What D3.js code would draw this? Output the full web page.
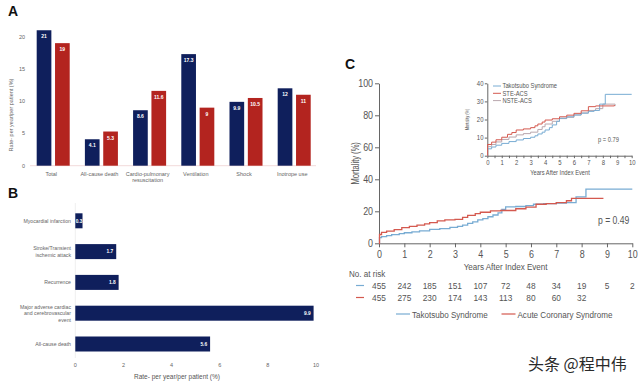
<!DOCTYPE html>
<html><head><meta charset="utf-8">
<script src="https://cdn.jsdelivr.net/npm/d3@7/dist/d3.min.js"></script>
<style>body{margin:0;background:#fff}svg{display:block}</style>
</head><body><svg id="c" width="640" height="383"></svg>
<script>
// ---------- DATA ----------
const catsA = ["Total","All-cause death","Cardio-pulmonary|resuscitation","Ventilation","Shock","Inotrope use"];
const takoA = [21, 4.1, 8.6, 17.3, 9.9, 12];
const acsA  = [19, 5.3, 11.6, 9, 10.5, 11];
const ticksA = [0,5,10,15,20];

const catsB = ["Myocardial infarction","Stroke/Transient|ischemic attack","Recurrence","Major adverse cardiac|and cerebrovascular|event","All-cause death"];
const valsB = [0.3, 1.7, 1.8, 9.9, 5.6];
const ticksB = [0,2,4,6,8,10];

const kmTako = [[0,0],[0.02,3.5],[0.1,4.2],[0.3,4.8],[0.5,5.4],[0.8,6.0],[1.0,6.6],[1.3,7.2],[1.6,7.8],[2.0,8.7],[2.4,9.2],[2.8,9.9],[3.1,10.6],[3.3,11.4],[3.5,12.5],[3.7,13.4],[3.9,14.6],[4.1,15.4],[4.3,16.6],[4.5,17.7],[4.7,19.0],[4.85,21.2],[5.0,22.8],[5.4,23.0],[5.8,23.5],[6.1,24.4],[6.5,24.8],[7.0,25.2],[7.4,25.4],[7.78,29.0],[8.17,33.9],[10.0,33.9]];
const kmACS = [[0,0],[0.02,5.5],[0.1,6.8],[0.3,7.6],[0.6,8.6],[0.9,9.8],[1.2,10.6],[1.5,11.4],[1.8,12.2],[2.0,12.9],[2.3,14.0],[2.6,14.6],[3.0,15.0],[3.3,16.2],[3.5,17.5],[3.8,18.6],[4.0,19.4],[4.4,20.3],[4.8,20.5],[5.1,20.5],[5.4,21.6],[5.8,22.6],[6.2,24.4],[6.6,24.8],[7.0,25.4],[7.4,26.6],[7.6,28.1],[8.86,28.1]];
const inTako = [[0,0],[0.02,3.8],[0.3,4.8],[0.6,5.8],[1.0,6.8],[1.5,7.8],[2.0,8.7],[2.5,9.5],[3.0,10.2],[3.3,11.0],[3.5,12.0],[3.8,13.0],[4.0,14.2],[4.3,15.5],[4.5,17.0],[4.8,19.0],[5.0,20.7],[5.5,21.5],[6.0,22.5],[6.5,23.5],[7.0,24.5],[7.4,25.0],[7.78,28.5],[8.17,33.9],[10.0,33.9]];
const inSTE = [[0,0],[0.02,6.2],[0.3,7.5],[0.6,8.8],[1.0,10.2],[1.4,11.8],[1.7,12.8],[2.0,14.2],[2.5,14.8],[3.0,15.5],[3.3,16.5],[3.5,17.5],[3.8,18.6],[4.0,19.7],[4.5,20.4],[5.0,21.5],[5.5,22.4],[6.0,23.4],[6.5,24.8],[7.0,27.1],[7.5,27.5],[8.8,28.0]];
const inNSTE = [[0,0],[0.02,5.0],[0.3,6.2],[0.6,7.6],[1.0,9.0],[1.5,10.3],[2.0,11.5],[2.5,12.2],[3.0,13.0],[3.5,14.5],[3.8,16.0],[4.0,17.5],[4.5,19.0],[5.0,20.5],[5.5,21.2],[6.0,22.5],[6.5,23.6],[7.0,25.0],[7.5,26.0],[8.0,28.5],[8.85,27.4]];
const atRiskTako = [455,242,185,151,107,72,48,34,19,5,2];
const atRiskACS  = [455,275,230,174,143,113,80,60,32];
const ticksC = [0,20,40,60,80,100];
const ticksCin = [0,10,20,30,40];
const yearsC = [0,1,2,3,4,5,6,7,8,9,10];

// ---------- STYLE ----------
const NAVY = "#0f1f5c", RED = "#b3241f";
const CBLUE = "#78acd3", CRED = "#d4594f", CGREY = "#b9a7ae";
const svg = d3.select("#c");
const smallFont = "Liberation Sans, Arial, sans-serif";
const cFont = "Liberation Sans, Arial, sans-serif";
const TXT = "#555";

// condensed text helper (x-scaled glyphs)
function ctext(g, x, y, str, size, sx, anchor="start", rot=0) {
  return g.append("text").attr("transform",`translate(${x},${y}) rotate(${rot}) scale(${sx},1)`)
    .attr("text-anchor",anchor).attr("font-size",size).attr("font-family",cFont).attr("fill",TXT).text(str);
}

// ---------- PANEL A ----------
svg.append("text").attr("x",8).attr("y",16).attr("font-family","Liberation Sans, Arial").attr("font-weight","bold").attr("font-size",14).attr("fill","#111").text("A");
const xA = d3.scaleBand().domain(catsA).range([29.1,318.3]).paddingInner(0.315).paddingOuter(0.1575);
const subA = d3.scaleBand().domain(["t","a"]).range([0,xA.bandwidth()]).paddingInner(0.2);
const yA = d3.scaleLinear().domain([0,20]).range([165.7,36.7]);
const gA = svg.append("g");
gA.append("line").attr("x1",30).attr("x2",316).attr("y1",yA(0)).attr("y2",yA(0)).attr("stroke","#edd0d0").attr("stroke-width",0.8);
gA.selectAll(".ta").data(ticksA).join("text").attr("x",25).attr("y",d=>yA(d)+2).attr("text-anchor","end")
  .attr("font-size",5.5).attr("font-family",smallFont).attr("fill","#666").text(d=>d);
gA.append("text").attr("transform","translate(13,115) rotate(-90)").attr("text-anchor","middle").attr("font-size",5.5)
  .attr("font-family",smallFont).attr("fill","#666").text("Rate- per year/per patient (%)");
const series = [{k:"t",v:takoA,c:NAVY},{k:"a",v:acsA,c:RED}];
series.forEach(s=>{
  catsA.forEach((c,i)=>{
    const x = xA(c)+subA(s.k), y = yA(s.v[i]);
    gA.append("rect").attr("x",x).attr("y",y).attr("width",subA.bandwidth()).attr("height",yA(0)-y).attr("fill",s.c);
    gA.append("text").attr("x",x+subA.bandwidth()/2).attr("y",y+8).attr("text-anchor","middle").attr("font-size",5)
      .attr("font-weight","bold").attr("font-family",smallFont).attr("fill","#fff").text(s.v[i]);
  });
});
catsA.forEach(c=>{
  const lines = c.split("|");
  lines.forEach((l,j)=>{
    gA.append("text").attr("x",xA(c)+xA.bandwidth()/2-2).attr("y",175.5+j*6.8).attr("text-anchor","middle").attr("font-size",5.5)
      .attr("font-family",smallFont).attr("fill","#666").text(l);
  });
});

// ---------- PANEL B ----------
svg.append("text").attr("x",8).attr("y",198).attr("font-family","Liberation Sans, Arial").attr("font-weight","bold").attr("font-size",14).attr("fill","#111").text("B");
const xB = d3.scaleLinear().domain([0,10]).range([75.3,316]);
const yB = d3.scaleBand().domain(catsB).range([205.4,359.4]).paddingInner(0.513).paddingOuter(0.2565);
const gB = svg.append("g");
gB.append("line").attr("x1",xB(0)).attr("x2",xB(0)).attr("y1",203).attr("y2",358).attr("stroke","#e4e4e4").attr("stroke-width",0.6);
catsB.forEach((c,i)=>{
  const y = yB(c);
  gB.append("rect").attr("x",xB(0)).attr("y",y).attr("width",xB(valsB[i])-xB(0)).attr("height",yB.bandwidth()).attr("fill",NAVY);
  gB.append("text").attr("x",Math.max(xB(valsB[i])-3, xB(0)+7)).attr("y",y+yB.bandwidth()/2+1.8).attr("text-anchor","end")
    .attr("font-size",4.8).attr("font-weight","bold").attr("font-family",smallFont).attr("fill","#fff").text(valsB[i]);
  const lines = c.split("|");
  lines.forEach((l,j)=>{
    gB.append("text").attr("x",71).attr("y",y+yB.bandwidth()/2+2+(j-(lines.length-1)/2)*6.3).attr("text-anchor","end")
      .attr("font-size",5.2).attr("font-family",smallFont).attr("fill","#666").text(l);
  });
});
gB.selectAll(".tb").data(ticksB).join("text").attr("x",d=>xB(d)).attr("y",367).attr("text-anchor","middle")
  .attr("font-size",5.5).attr("font-family",smallFont).attr("fill","#666").text(d=>d);
gB.append("text").attr("x",177).attr("y",379).attr("text-anchor","middle").attr("font-size",6.5)
  .attr("font-family",smallFont).attr("fill","#555").text("Rate- per year/per patient (%)");

// ---------- PANEL C ----------
svg.append("text").attr("x",345).attr("y",69).attr("font-family","Liberation Sans, Arial").attr("font-weight","bold").attr("font-size",14).attr("fill","#111").text("C");
const xC = d3.scaleLinear().domain([0,10]).range([379,632.3]);
const yC = d3.scaleLinear().domain([0,100]).range([243.3,83.3]);
const gC = svg.append("g");
const axisCol = "#666";
gC.append("g").attr("transform",`translate(0,${yC(0)})`).call(d3.axisBottom(xC).tickValues(yearsC).tickSize(4).tickSizeOuter(0).tickPadding(3))
  .call(g=>{g.select(".domain").attr("stroke",axisCol);g.selectAll("line").attr("stroke",axisCol);
    g.selectAll("text").attr("font-size",10.5).attr("font-family",cFont).attr("fill",TXT).attr("transform","scale(0.85,1)");});
gC.append("g").attr("transform",`translate(${xC(0)},0)`).call(d3.axisLeft(yC).tickValues(ticksC).tickSize(4).tickSizeOuter(0).tickPadding(3))
  .call(g=>{g.select(".domain").attr("stroke",axisCol);g.selectAll("line").attr("stroke",axisCol);
    g.selectAll("text").attr("font-size",10.5).attr("font-family",cFont).attr("fill",TXT).attr("transform","scale(0.85,1)");});
ctext(gC, 505.6, 270, "Years After Index Event", 9.5, 0.85, "middle");
ctext(gC, 359, yC(50), "Mortality (%)", 10.5, 0.72, "middle", -90);
const stepLine = (xs,ys)=>d3.line().curve(d3.curveStepAfter).x(d=>xs(d[0])).y(d=>ys(d[1]));
gC.append("path").attr("d",stepLine(xC,yC)(kmTako)).attr("fill","none").attr("stroke",CBLUE).attr("stroke-width",1.3);
gC.append("path").attr("d",stepLine(xC,yC)(kmACS)).attr("fill","none").attr("stroke",CRED).attr("stroke-width",1.3);
ctext(gC, 598, 224, "p = 0.49", 10.5, 0.82);
// at risk
ctext(gC, 349, 277, "No. at risk", 9.5, 0.85);
[[atRiskTako,CBLUE,289],[atRiskACS,CRED,301]].forEach(([arr,col,y])=>{
  gC.append("line").attr("x1",356).attr("x2",364).attr("y1",y-3.5).attr("y2",y-3.5).attr("stroke",col).attr("stroke-width",1.2);
  arr.forEach((v,i)=>ctext(gC, xC(yearsC[i]), y, v, 9.8, 0.85, "middle"));
});
// legend
[["Takotsubo Syndrome",CBLUE,396],["Acute Coronary Syndrome",CRED,501.5]].forEach(([t,col,x])=>{
  gC.append("line").attr("x1",x).attr("x2",x+14).attr("y1",314).attr("y2",314).attr("stroke",col).attr("stroke-width",1.2);
  ctext(gC, x+16, 317.5, t, 9.5, 0.85);
});

// ---------- INSET ----------
const xI = d3.scaleLinear().domain([0,10]).range([487.3,631.7]);
const yI = d3.scaleLinear().domain([0,40]).range([155.7,83.3]);
const gI = svg.append("g");
gI.append("g").attr("transform",`translate(0,${yI(0)})`).call(d3.axisBottom(xI).ticks(20).tickFormat(d=>Number.isInteger(d)?d:"").tickSize(2.5).tickSizeOuter(0).tickPadding(1.5))
  .call(g=>{g.select(".domain").attr("stroke",axisCol);g.selectAll("line").attr("stroke",axisCol);
    g.selectAll("text").attr("font-size",7).attr("font-family",cFont).attr("fill",TXT).attr("transform","scale(0.85,1)");});
gI.append("g").attr("transform",`translate(${xI(0)},0)`).call(d3.axisLeft(yI).tickValues(ticksCin).tickSize(2.5).tickSizeOuter(0).tickPadding(2))
  .call(g=>{g.select(".domain").attr("stroke",axisCol);g.selectAll("line").attr("stroke",axisCol);
    g.selectAll("text").attr("font-size",7).attr("font-family",cFont).attr("fill",TXT).attr("transform","scale(0.85,1)");});
ctext(gI, 560, 174.5, "Years After Index Event", 7, 0.82, "middle");
ctext(gI, 469, yI(20), "Mortality (%)", 6.2, 0.62, "middle", -90);
gI.append("path").attr("d",stepLine(xI,yI)(inNSTE)).attr("fill","none").attr("stroke",CGREY).attr("stroke-width",1);
gI.append("path").attr("d",stepLine(xI,yI)(inTako)).attr("fill","none").attr("stroke",CBLUE).attr("stroke-width",1);
gI.append("path").attr("d",stepLine(xI,yI)(inSTE)).attr("fill","none").attr("stroke",CRED).attr("stroke-width",1);
ctext(gI, 598, 142, "p = 0.79", 7, 0.82);
[["Takotsubo Syndrome",CBLUE,86],["STE-ACS",CRED,93.3],["NSTE-ACS",CGREY,100.6]].forEach(([t,col,y])=>{
  gI.append("line").attr("x1",493).attr("x2",501).attr("y1",y).attr("y2",y).attr("stroke",col).attr("stroke-width",1);
  ctext(gI, 502.5, y+2.3, t, 6.6, 0.88);
});

// ---------- WATERMARK ----------
svg.append("text").attr("x",528).attr("y",370).attr("font-size",16).attr("font-family","Noto Sans CJK SC, sans-serif")
  .attr("fill","#2a2a2a").attr("stroke","#fff").attr("stroke-width",0.6).attr("paint-order","stroke").text("头条 @程中伟");
</script></body></html>
